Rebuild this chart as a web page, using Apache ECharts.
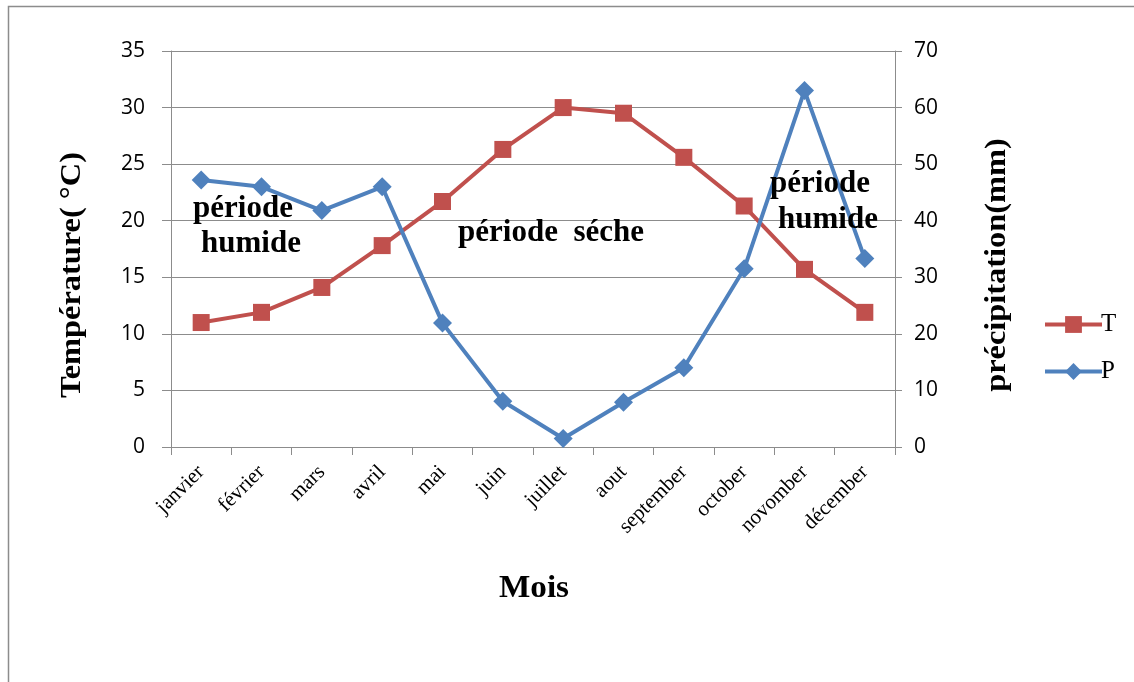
<!DOCTYPE html>
<html>
<head>
<meta charset="utf-8">
<script src="https://cdn.jsdelivr.net/npm/echarts@6/dist/echarts.min.js"></script>
<style>
html,body{margin:0;padding:0;background:#fff;}
#chart{width:1134px;height:682px;}
</style>
</head>
<body>
<div id="chart"></div>
<script>
const months = ['janvier','février','mars','avril','mai','juin','juillet','aout','september','october','novomber','décember'];
const temperature = [11.0, 11.9, 14.1, 17.8, 21.7, 26.3, 30.0, 29.5, 25.6, 21.3, 15.7, 11.9];
const precipitation = [47.2, 46.0, 41.8, 46.0, 21.9, 8.1, 1.5, 7.9, 14.0, 31.5, 63.0, 33.3];
const leftTicks = {min: 0, max: 35, interval: 5};
const rightTicks = {min: 0, max: 70, interval: 10};

const chart = echarts.init(document.getElementById('chart'), null, {renderer: 'canvas'});
const serif = '"Liberation Serif", "DejaVu Serif", serif';
const sans = '"Open Sans", "Liberation Sans", sans-serif';
const gridColor = '#8c8c8c';
const red = '#C0504D';
const blue = '#4F81BD';

chart.setOption({
  animation: false,
  backgroundColor: '#fff',
  grid: {left: 171, top: 51, width: 724, height: 396, containLabel: false},
  legend: {
    orient: 'vertical',
    left: 1038,
    top: 307,
    itemWidth: 57,
    itemHeight: 21,
    itemGap: 22,
    lineStyle: {width: 4},
    textStyle: {fontFamily: serif, fontSize: 25, color: '#000', padding: [0,0,0,-6]},
    data: ['T', 'P']
  },
  xAxis: {
    type: 'category',
    data: months,
    boundaryGap: true,
    axisLine: {lineStyle: {color: gridColor, width: 1}},
    axisTick: {show: true, length: 8, interval: 0, lineStyle: {color: gridColor}},
    axisLabel: {rotate: 45, interval: 0, margin: 22, fontFamily: serif, fontSize: 21, color: '#000'},
    splitLine: {show: false}
  },
  yAxis: [
    {
      type: 'value',
      min: leftTicks.min, max: leftTicks.max, interval: leftTicks.interval,
      axisLine: {show: true, lineStyle: {color: gridColor}},
      axisTick: {show: true, length: 9, lineStyle: {color: gridColor}},
      axisLabel: {margin: 26, fontFamily: sans, fontSize: 21, color: '#000'},
      splitLine: {show: true, lineStyle: {color: gridColor, width: 1}}
    },
    {
      type: 'value',
      min: rightTicks.min, max: rightTicks.max, interval: rightTicks.interval,
      position: 'right',
      axisLine: {show: true, lineStyle: {color: gridColor}},
      axisTick: {show: true, length: 7, lineStyle: {color: gridColor}},
      axisLabel: {margin: 19, fontFamily: sans, fontSize: 21, color: '#000'},
      splitLine: {show: false}
    }
  ],
  series: [
    {
      name: 'T',
      type: 'line',
      yAxisIndex: 0,
      data: temperature,
      symbol: 'rect',
      symbolSize: 17,
      lineStyle: {color: red, width: 4},
      itemStyle: {color: red},
      z: 3
    },
    {
      name: 'P',
      type: 'line',
      yAxisIndex: 1,
      data: precipitation,
      symbol: 'diamond',
      symbolSize: [19, 19],
      lineStyle: {color: blue, width: 4},
      itemStyle: {color: blue},
      z: 4
    }
  ],
  graphic: [
    {type: 'rect', shape: {x: 8.5, y: 6.5, width: 1200, height: 800}, style: {fill: 'none', stroke: '#8c8c8c', lineWidth: 1.5}, z: -10, silent: true},
    {type: 'text', x: 72, y: 275, rotation: Math.PI/2, scaleX: 1.08, style: {text: 'Température( °C)', font: 'bold 30px ' + serif, fill: '#000', textAlign: 'center', textVerticalAlign: 'middle'}},
    {type: 'text', x: 997, y: 265, rotation: Math.PI/2, scaleX: 1.08, style: {text: 'précipitation(mm)', font: 'bold 30px ' + serif, fill: '#000', textAlign: 'center', textVerticalAlign: 'middle'}},
    {type: 'text', x: 534, y: 589, scaleX: 1.07, style: {text: 'Mois', font: 'bold 31px ' + serif, fill: '#000', textAlign: 'center', textVerticalAlign: 'middle'}},
    {type: 'text', x: 243, y: 209, style: {text: 'période', font: 'bold 31px ' + serif, fill: '#000', textAlign: 'center', textVerticalAlign: 'middle'}, z: 10},
    {type: 'text', x: 251, y: 244, style: {text: 'humide', font: 'bold 31px ' + serif, fill: '#000', textAlign: 'center', textVerticalAlign: 'middle'}, z: 10},
    {type: 'text', x: 551, y: 233, style: {text: 'période  séche', font: 'bold 31px ' + serif, fill: '#000', textAlign: 'center', textVerticalAlign: 'middle'}, z: 10},
    {type: 'text', x: 820, y: 184, style: {text: 'période', font: 'bold 31px ' + serif, fill: '#000', textAlign: 'center', textVerticalAlign: 'middle'}, z: 10},
    {type: 'text', x: 828, y: 220, style: {text: 'humide', font: 'bold 31px ' + serif, fill: '#000', textAlign: 'center', textVerticalAlign: 'middle'}, z: 10}
  ]
});
</script>
</body>
</html>
